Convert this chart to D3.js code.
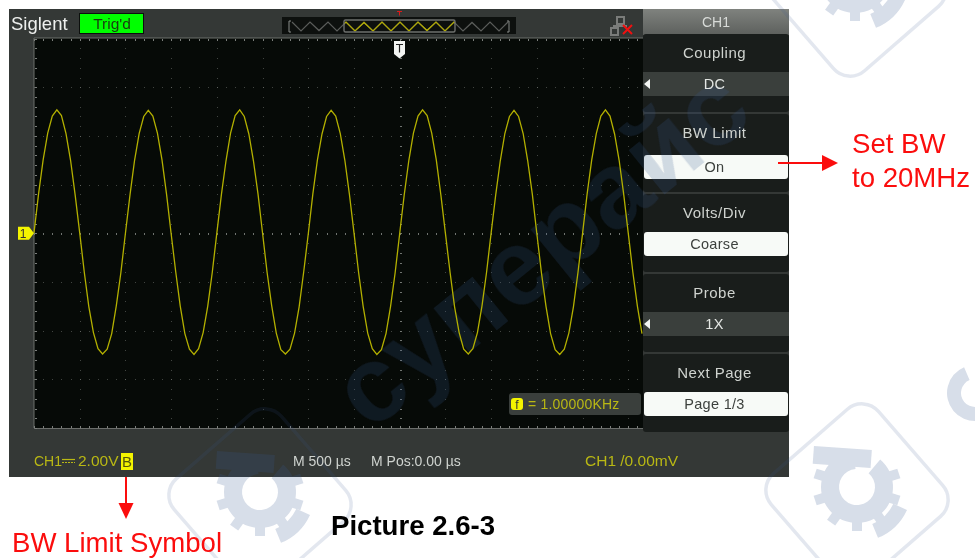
<!DOCTYPE html>
<html>
<head>
<meta charset="utf-8">
<script src="https://cdn.jsdelivr.net/npm/d3@7"></script>
<style>
  html, body { margin: 0; padding: 0; background: #fff; }
  svg { display: block; }
  text { font-family: "Liberation Sans", Arial, sans-serif; }
</style>
</head>
<body>
<svg id="scope" width="975" height="558"></svg>
<script>
// trace, one value every 50 us, volts
const sampleStartUs = -4000;
const sampleStepUs = 50;
const traceVolts = [
  0.02, 1.62, 3.02, 4.12, 4.82, 5.07, 4.84, 4.10, 3.00, 1.58, 0.02, -1.60, -3.02, -4.08, -4.74, -4.96, -4.76, -4.12, -2.98, -1.62,
  0.00, 1.58, 3.00, 4.10, 4.80, 5.05, 4.82, 4.12, 3.02, 1.60, -0.02, -1.58, -3.00, -4.12, -4.76, -4.98, -4.74, -4.08, -3.00, -1.60,
  0.02, 1.60, 2.98, 4.12, 4.84, 5.07, 4.80, 4.08, 2.98, 1.62, 0.00, -1.62, -2.98, -4.10, -4.78, -4.96, -4.76, -4.10, -3.02, -1.58,
  -0.02, 1.62, 3.02, 4.08, 4.80, 5.05, 4.82, 4.10, 3.00, 1.60, 0.02, -1.60, -3.00, -4.10, -4.74, -4.98, -4.78, -4.12, -3.00, -1.62,
  0.00, 1.60, 3.00, 4.12, 4.82, 5.07, 4.84, 4.12, 3.02, 1.58, 0.00, -1.58, -3.02, -4.08, -4.76, -4.96, -4.74, -4.08, -2.98, -1.60,
  0.02, 1.58, 2.98, 4.10, 4.80, 5.05, 4.80, 4.10, 2.98, 1.62, -0.02, -1.62, -3.00, -4.12, -4.78, -4.98, -4.76, -4.10, -3.02, -1.60,
  0.00, 1.62, 3.02, 4.10, 4.82, 5.07, 4.82, 4.08, 3.00, 1.60, 0.00, -1.60, -3.00, -4.12
];
const overviewWave = [1, -1, 1, -0.9, 1, -1, 1, -1, 0.9, -1, 1, -1, 1, -1, 1, -0.9, 1, -1, 1, -1, 0.9, -1, 1, -1, 1];

const timeDomainUs = [-4000, 2650];
const voltDomain = [-8, 8];
const timeDivUs = 500;
const voltDiv = 2;

const menuTitles = ['Coupling', 'BW Limit', 'Volts/Div', 'Probe', 'Next Page'];
const menuValues = ['DC', 'On', 'Coarse', '1X', 'Page 1/3'];
const menuSelectors = [true, false, false, true, false];

const svg = d3.select('#scope');
const x = d3.scaleLinear().domain(timeDomainUs).range([34, 642]);
const y = d3.scaleLinear().domain(voltDomain).range([428, 38.6]);

const yellow = '#b9b814';
const grey = '#cfd3cf';

// instrument body
const body = svg.append('g');
body.append('rect').attr('x', 9).attr('y', 9).attr('width', 780).attr('height', 468).attr('fill', '#343836');
body.append('rect').attr('x', 34).attr('y', 38).attr('width', 609).attr('height', 390).attr('fill', '#060a07');
body.append('path').attr('d', 'M34 428V38H643M34 428.5H643').attr('fill', 'none').attr('stroke', '#6b6e6b').attr('stroke-width', 1);

// graticule
const grid = body.append('g').attr('fill', '#7c7f7c');
const minorT = d3.range(-4000, 2651, timeDivUs / 5);
const minorV = d3.range(-8, 8.01, voltDiv / 5);
const majorT = d3.range(-3500, 2651, timeDivUs);
const majorV = d3.range(-6, 6.01, voltDiv);

minorT.forEach((t) => {
  grid.append('rect').attr('x', Math.round(x(t))).attr('y', 39).attr('width', 1).attr('height', 2);
  grid.append('rect').attr('x', Math.round(x(t))).attr('y', 426).attr('width', 1).attr('height', 2);
  majorV.forEach((v) => {
    grid.append('rect').attr('x', Math.round(x(t))).attr('y', Math.round(y(v)))
      .attr('width', 1).attr('height', v === 0 ? 2 : 1).attr('opacity', v === 0 ? 0.9 : 0.5);
  });
});
minorV.forEach((v) => {
  grid.append('rect').attr('x', 35).attr('y', Math.round(y(v))).attr('width', 2).attr('height', 1);
  majorT.forEach((t) => {
    grid.append('rect').attr('x', Math.round(x(t))).attr('y', Math.round(y(v)))
      .attr('width', t === 0 ? 2 : 1).attr('height', 1).attr('opacity', t === 0 ? 0.9 : 0.5);
  });
});

// menu backgrounds
const menu = svg.append('g');
const header = svg.append('defs').append('linearGradient').attr('id', 'head').attr('x1', 0).attr('x2', 0).attr('y1', 0).attr('y2', 1);
header.append('stop').attr('offset', 0).attr('stop-color', '#7f827e');
header.append('stop').attr('offset', 1).attr('stop-color', '#5d605d');
menu.append('rect').attr('x', 643).attr('y', 9).attr('width', 146).attr('height', 26).attr('fill', 'url(#head)');

const panelTops = [34, 114, 194, 274, 354];
const valueTops = [72, 155, 232, 312, 392];
panelTops.forEach((top, i) => {
  const rowTop = valueTops[i];
  menu.append('rect').attr('x', 643).attr('y', top).attr('width', 146).attr('height', 78).attr('rx', 3).attr('fill', '#191d1b');
  if (menuSelectors[i]) {
    menu.append('rect').attr('x', 643).attr('y', rowTop).attr('width', 146).attr('height', 24).attr('fill', '#3a3f3c');
    menu.append('path').attr('d', `M644 ${rowTop + 12}l6 -5v10z`).attr('fill', '#f4f6f4');
  } else {
    menu.append('rect').attr('x', 644).attr('y', rowTop).attr('width', 144).attr('height', 24).attr('rx', 3).attr('fill', '#f7faf7');
  }
});

// watermark
const wm = svg.append('g').attr('fill', '#3a5a90').attr('opacity', 0.2);
const gearTeeth = d3.range(0, 360, 36);
function stamp(cx, cy) {
  const g = wm.append('g').attr('transform', `translate(${cx},${cy})`);
  g.append('rect').attr('x', -71).attr('y', -71).attr('width', 142).attr('height', 142).attr('rx', 22)
    .attr('transform', 'translate(0,5) rotate(49)').attr('fill', 'none').attr('stroke', '#3a5a90')
    .attr('stroke-width', 3.5).attr('stroke-opacity', 0.7);
  const ring = d3.arc().innerRadius(18).outerRadius(36);
  g.append('path').attr('d', ring({ startAngle: 0.7, endAngle: 6.2 })).attr('transform', 'translate(0,-3)');
  gearTeeth.forEach((a) => {
    if (a < 40 || a > 310) return;
    g.append('rect').attr('x', -5).attr('y', -44).attr('width', 10).attr('height', 12)
      .attr('transform', `translate(0,-3) rotate(${a})`);
  });
  g.append('rect').attr('x', -46).attr('y', -41).attr('width', 58).attr('height', 18).attr('transform', 'rotate(4)');
  const shell = d3.arc().innerRadius(40).outerRadius(55);
  g.append('path').attr('d', shell({ startAngle: 2.0, endAngle: 2.75 })).attr('transform', 'translate(0,-3)');
}
stamp(857, 490);
stamp(260, 495);
stamp(855, -20);
wm.append('text').text('суперайс').attr('font-size', 108).attr('font-weight', 700)
  .attr('transform', 'translate(370,433) rotate(-39)');
const sideMark = d3.arc().innerRadius(14).outerRadius(28);
wm.append('path').attr('d', sideMark({ startAngle: -6.0, endAngle: -0.4 }))
  .attr('transform', 'translate(975,393)');

// waveform
const traceData = traceVolts.map((v, i) => ({ t: sampleStartUs + i * sampleStepUs, v }));
const traceLine = d3.line().x((d) => x(d.t)).y((d) => y(d.v));
svg.append('path').datum(traceData).attr('d', traceLine)
  .attr('fill', 'none').attr('stroke', '#b3b000').attr('stroke-width', 1.3);

// top bar
const overview = svg.append('g');
overview.append('rect').attr('x', 282).attr('y', 17).attr('width', 234).attr('height', 17).attr('fill', '#0d100e');
const ovX = d3.scaleLinear().domain([0, overviewWave.length - 1]).range([292, 508]);
const ovY = d3.scaleLinear().domain([-1, 1]).range([31, 22]);
const ovLine = d3.line().x((d, i) => ovX(i)).y((d) => ovY(d));
overview.append('path').attr('d', ovLine(overviewWave)).attr('fill', 'none').attr('stroke', '#5a5c5a').attr('stroke-width', 1.2);
svg.select('defs').append('clipPath').attr('id', 'ovClip')
  .append('rect').attr('x', 344).attr('y', 18).attr('width', 111).attr('height', 15);
overview.append('path').attr('d', ovLine(overviewWave)).attr('fill', 'none').attr('stroke', '#b3ac00').attr('stroke-width', 1.2)
  .attr('clip-path', 'url(#ovClip)');
overview.append('path').attr('d', 'M291 21h-2v11h2M507 21h2v11h-2').attr('fill', 'none').attr('stroke', '#8a8d8a');
overview.append('rect').attr('x', 344).attr('y', 20).attr('width', 111).attr('height', 12).attr('rx', 1.5)
  .attr('fill', 'none').attr('stroke', '#6e706e').attr('stroke-width', 1.4);
overview.append('path').attr('d', 'M397 11.5h5M399.5 11.5v4').attr('fill', 'none').attr('stroke', '#e01818');

// network icon
const net = svg.append('g').attr('fill', 'none').attr('stroke', '#7a7c7a').attr('stroke-width', 2);
net.append('rect').attr('x', 617).attr('y', 17).attr('width', 7).attr('height', 7);
net.append('rect').attr('x', 611).attr('y', 28).attr('width', 7).attr('height', 7);
net.append('path').attr('d', 'M620 24v2h-6v2M620 26h7');
svg.append('path').attr('d', 'M623 25l9 9M632 25l-9 9').attr('fill', 'none').attr('stroke', '#f01010').attr('stroke-width', 2);

// trigger position and channel markers
svg.append('path').attr('d', 'M394 41h11v13l-5.5 4.5l-5.5 -4.5z').attr('fill', '#f2f4f2');
svg.append('path').attr('d', 'M396 44.5h7M399.5 44.5v8').attr('fill', 'none').attr('stroke', '#222').attr('stroke-width', 1.2);
svg.append('path').attr('d', `M18 ${y(0) - 6.5}h11l5 6.5l-5 6.5h-11z`).attr('fill', '#f4f400');
svg.append('text').text('1').attr('x', 23).attr('y', y(0) + 4.5).attr('text-anchor', 'middle')
  .attr('font-size', 12).attr('fill', '#333');

// labels
function label(parent, txt, lx, ly, size, fill, anchor) {
  return parent.append('text').text(txt).attr('x', lx).attr('y', ly)
    .attr('font-size', size).attr('fill', fill).attr('text-anchor', anchor || 'start');
}
const texts = svg.append('g');
label(texts, 'Siglent', 11, 30, 18.5, '#eef0ee');
texts.append('rect').attr('x', 79.5).attr('y', 13.5).attr('width', 64).attr('height', 20).attr('fill', '#00ff00').attr('stroke', '#0c0f0d');
label(texts, "Trig'd", 112, 29, 15.5, '#1a3a10', 'middle');
label(texts, 'CH1', 716, 27, 14, '#d8dbd8', 'middle');

menuTitles.forEach((t, i) => {
  label(texts, t, 714.5, panelTops[i] + 24, 15, grey, 'middle').attr('letter-spacing', 0.5);
  label(texts, menuValues[i], 714.5, valueTops[i] + 17, 14.5, menuSelectors[i] ? '#e4e7e4' : '#3c403d', 'middle').attr('letter-spacing', 0.3);
});

// frequency readout
texts.append('rect').attr('x', 509).attr('y', 393).attr('width', 132).attr('height', 22).attr('rx', 3).attr('fill', '#3a3f3c');
texts.append('rect').attr('x', 511).attr('y', 398).attr('width', 12).attr('height', 12).attr('rx', 3).attr('fill', '#f4f400');
label(texts, 'f', 517, 409, 12, '#333', 'middle');
label(texts, '= 1.00000KHz', 528, 409, 14, yellow).attr('letter-spacing', 0.2);

// status line
label(texts, 'CH1', 34, 466, 14, yellow);
texts.append('path').attr('d', 'M62 459.5h13').attr('stroke', yellow).attr('stroke-width', 1.2);
texts.append('path').attr('d', 'M62 462.5h13').attr('stroke', yellow).attr('stroke-width', 1.2).attr('stroke-dasharray', '2 1');
label(texts, '2.00V', 78, 466, 15.5, yellow);
texts.append('rect').attr('x', 121).attr('y', 453).attr('width', 12).attr('height', 17).attr('fill', '#f4f400');
label(texts, 'B', 127, 467, 15, '#55550a', 'middle');
label(texts, 'M 500 µs', 293, 466, 14, grey);
label(texts, 'M Pos:0.00 µs', 371, 466, 14, grey);
label(texts, 'CH1 /0.00mV', 585, 466, 15.5, yellow);

// red call-outs
const red = '#fb0d0d';
const notes = svg.append('g');
notes.append('path').attr('d', 'M778 163H823').attr('stroke', red).attr('stroke-width', 2);
notes.append('path').attr('d', 'M822 155l16 8l-16 8z').attr('fill', red);
notes.append('path').attr('d', 'M126 477V505').attr('stroke', red).attr('stroke-width', 2);
notes.append('path').attr('d', 'M118.5 503h15l-7.5 16z').attr('fill', red);
label(notes, 'Set BW', 852, 153, 27.6, red);
label(notes, 'to 20MHz', 852, 187, 27.6, red);
label(notes, 'BW Limit Symbol', 12, 551.5, 27.6, red);
label(notes, 'Picture 2.6-3', 331, 535, 27.6, '#000').attr('font-weight', 700);
</script>
</body>
</html>
